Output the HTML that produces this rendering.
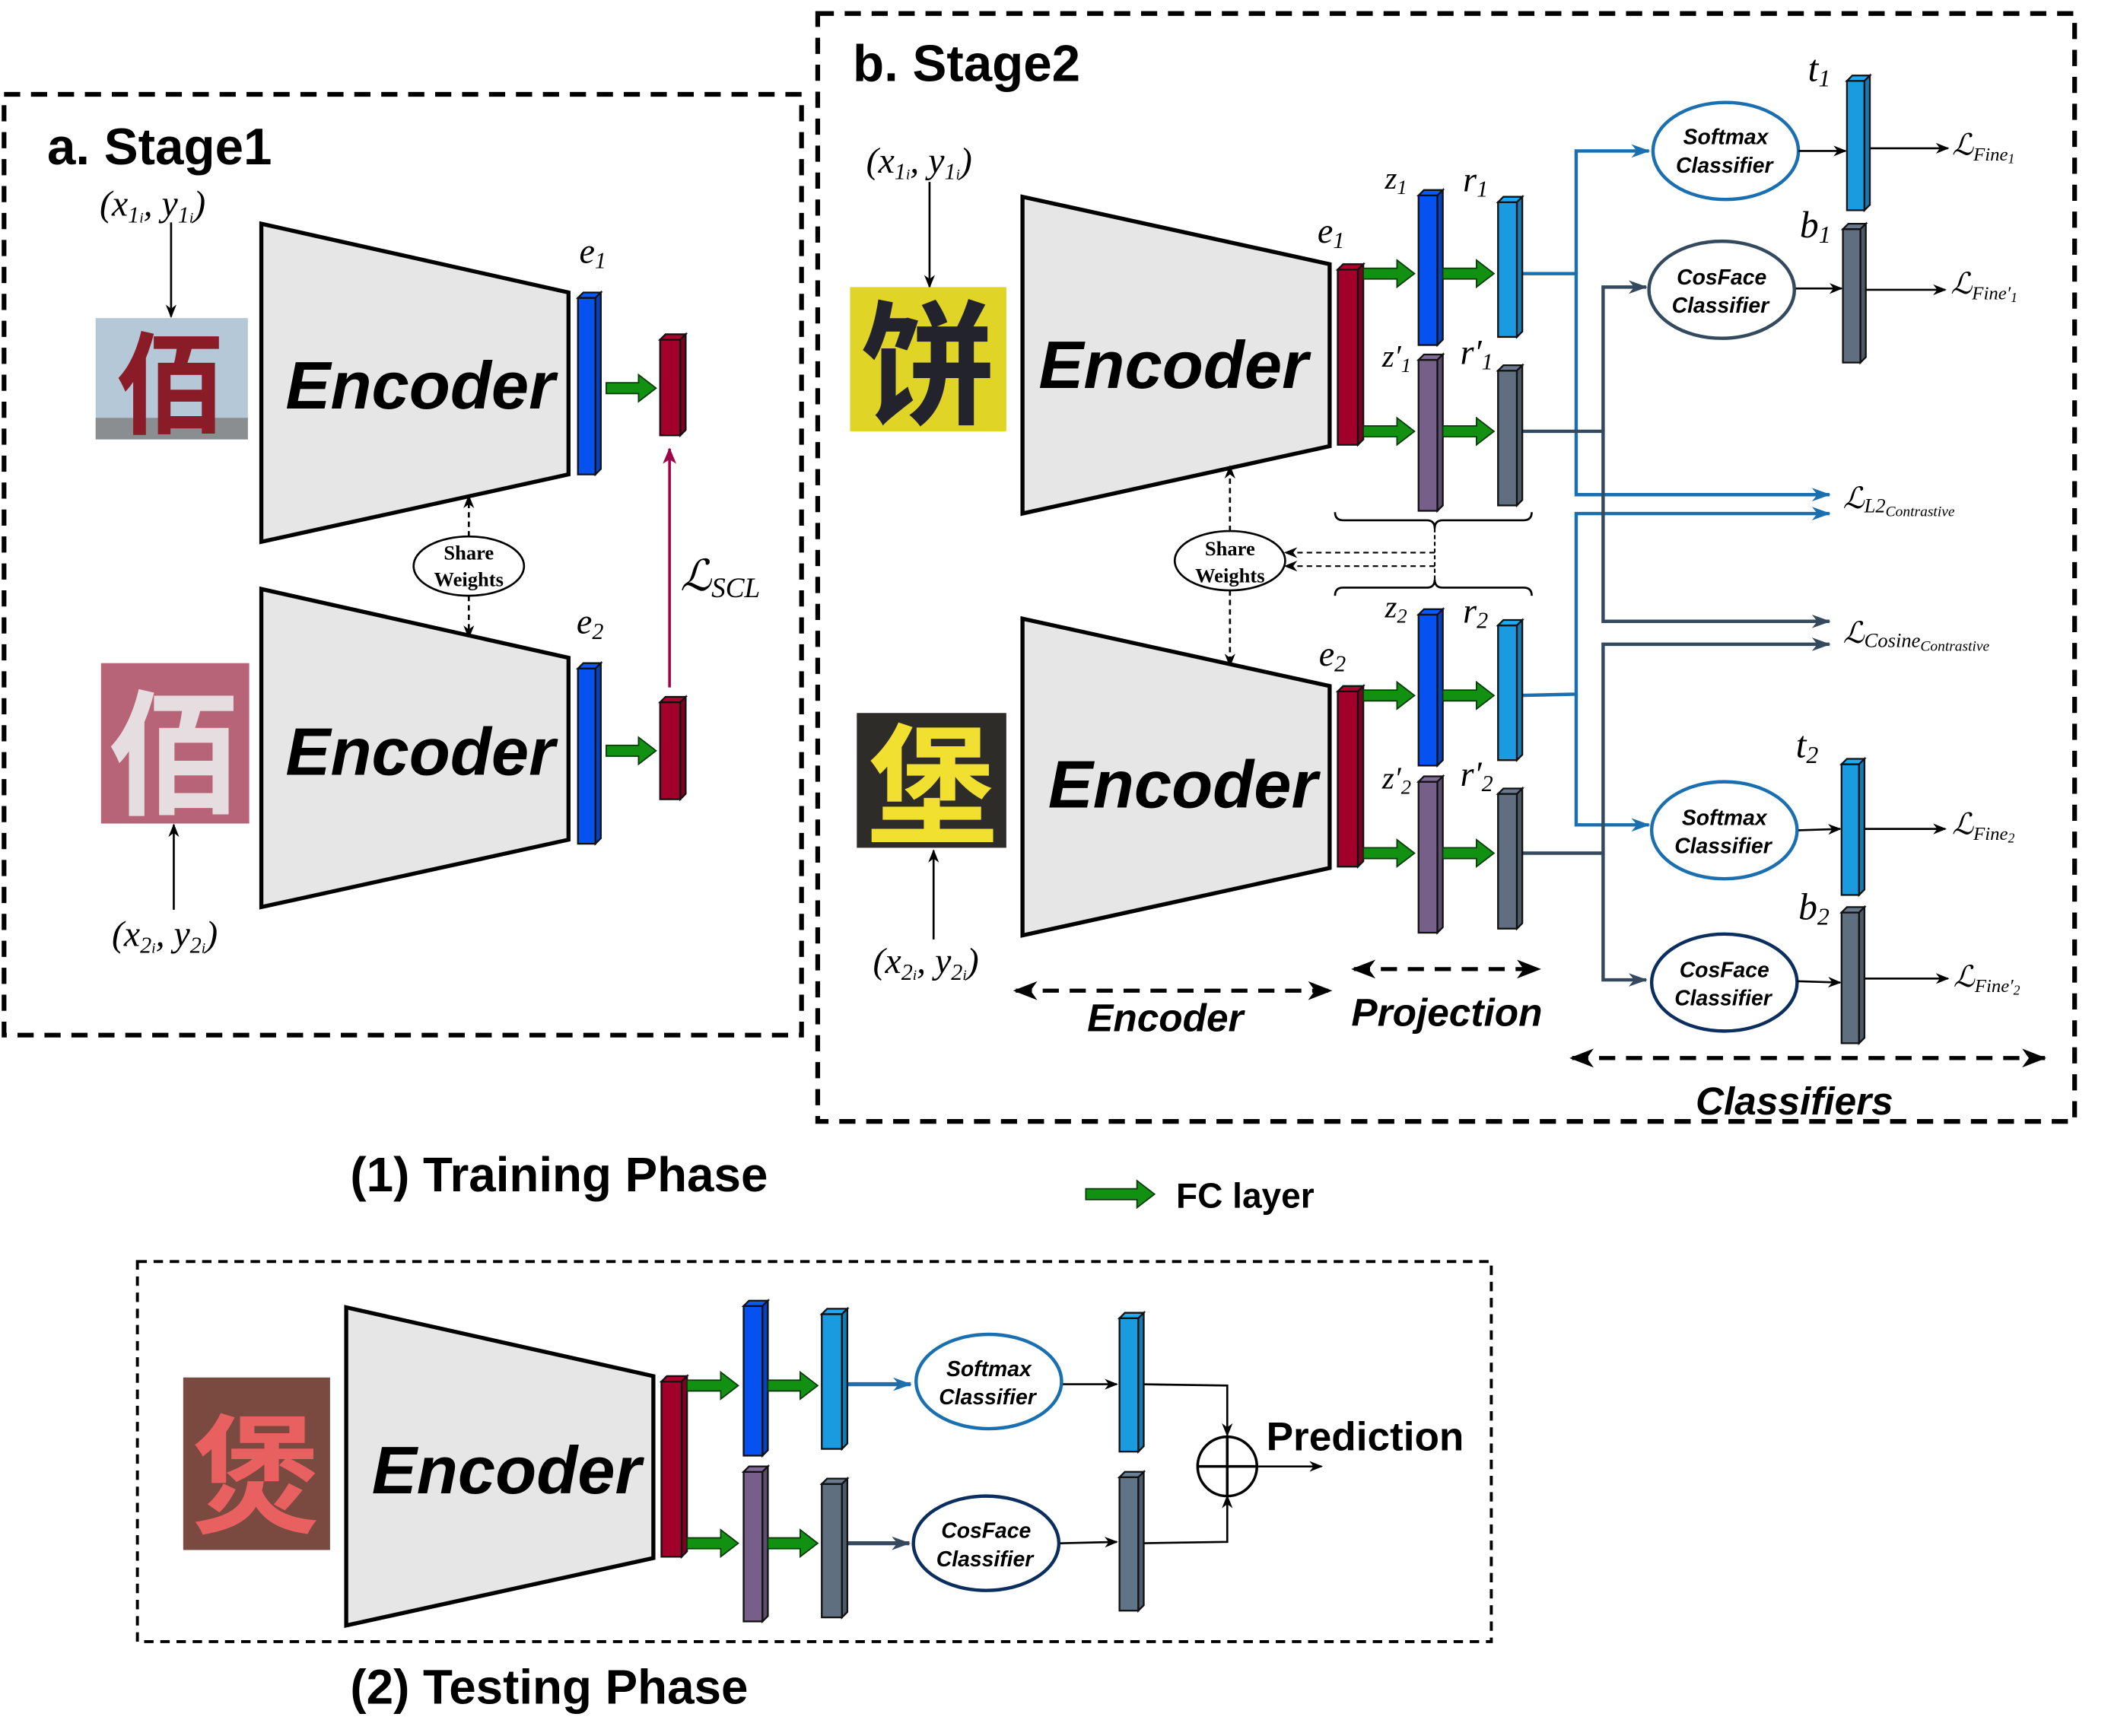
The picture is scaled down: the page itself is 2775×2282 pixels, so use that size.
<!DOCTYPE html>
<html><head><meta charset="utf-8"><style>
html,body{margin:0;padding:0;background:#fff;}
svg{display:block;}
.sf{font-family:"Liberation Sans",sans-serif;font-weight:bold;}
.enc{font-family:"Liberation Sans",sans-serif;font-weight:bold;font-style:italic;font-size:50px;}
.m{font-family:"Liberation Serif","DejaVu Serif",serif;font-style:italic;}
.cl{font-family:"Liberation Sans",sans-serif;font-weight:bold;font-style:italic;font-size:16px;}
</style></head><body>
<svg width="2775" height="2282" viewBox="0 0 1567 1288" preserveAspectRatio="none" xmlns="http://www.w3.org/2000/svg">
<defs>
<marker id="ah" markerWidth="10" markerHeight="10" refX="9" refY="5" orient="auto" markerUnits="userSpaceOnUse"><path d="M0,1 L10,5 L0,9 L3,5 z" fill="#000"/></marker>
<marker id="ahb" markerWidth="14" markerHeight="12" refX="13" refY="6" orient="auto" markerUnits="userSpaceOnUse"><path d="M0,1 L14,6 L0,11 L4,6 z" fill="#1a6fb0"/></marker>
<marker id="ahd" markerWidth="14" markerHeight="12" refX="13" refY="6" orient="auto" markerUnits="userSpaceOnUse"><path d="M0,1 L14,6 L0,11 L4,6 z" fill="#34495e"/></marker>
<marker id="ahr" markerWidth="12" markerHeight="12" refX="11" refY="6" orient="auto" markerUnits="userSpaceOnUse"><path d="M0,1 L12,6 L0,11 L3,6 z" fill="#a0004a"/></marker>
<marker id="ahk" markerWidth="18" markerHeight="14" refX="17" refY="7" orient="auto" markerUnits="userSpaceOnUse"><path d="M0,0 L18,7 L0,14 L5,7 z" fill="#000"/></marker>
</defs>

<rect x="3" y="70" width="592" height="698" fill="none" stroke="#000" stroke-width="3.5" stroke-dasharray="12,8"/>
<rect x="607" y="10" width="933" height="822" fill="none" stroke="#000" stroke-width="3.5" stroke-dasharray="12,8"/>
<rect x="102" y="936" width="1005" height="282" fill="none" stroke="#000" stroke-width="2.2" stroke-dasharray="7,5"/>

<text x="35" y="122" class="sf" font-size="38">a. Stage1</text>
<text x="74" y="160" class="m" font-size="27">(x<tspan font-size="17" dy="5">1<tspan font-size="11">i</tspan></tspan><tspan dy="-5">, y</tspan><tspan font-size="17" dy="5">1<tspan font-size="11">i</tspan></tspan><tspan dy="-5">)</tspan></text>
<line x1="127" y1="165" x2="127" y2="235" stroke="#000" stroke-width="1.5" marker-end="url(#ah)"/>
<rect x="71" y="236" width="113" height="90" fill="#b4c8d8"/>
<rect x="71" y="310" width="113" height="16" fill="#8a8e90"/>
<text x="127" y="315" text-anchor="middle" font-family="'Noto Sans CJK SC',sans-serif" font-weight="bold" font-size="82" fill="#8a1c28">佰</text>
<polygon points="194,166 422,217 422,352 194,402" fill="#e6e6e6" stroke="#000" stroke-width="3"/>
<text x="312" y="303" text-anchor="middle" class="enc">Encoder</text>
<text x="430" y="195" class="m" font-size="26">e<tspan font-size="17" dy="4">1</tspan></text>

<text x="348" y="415" text-anchor="middle" font-family="'Liberation Serif',serif" font-weight="bold" font-size="15">Share</text>
<text x="348" y="435" text-anchor="middle" font-family="'Liberation Serif',serif" font-weight="bold" font-size="15">Weights</text>
<ellipse cx="348" cy="420" rx="41" ry="22" fill="none" stroke="#000" stroke-width="1.5"/>
<line x1="348" y1="398" x2="348" y2="368" stroke="#000" stroke-width="1.5" stroke-dasharray="4,3" marker-end="url(#ah)"/>
<line x1="348" y1="442" x2="348" y2="473" stroke="#000" stroke-width="1.5" stroke-dasharray="4,3" marker-end="url(#ah)"/>

<rect x="75" y="492" width="110" height="119" fill="#b86478"/>
<text x="130" y="596" text-anchor="middle" font-family="'Noto Sans CJK SC',sans-serif" font-weight="bold" font-size="100" fill="#e6dde0">佰</text>
<polygon points="194,437 422,488 422,623 194,673" fill="#e6e6e6" stroke="#000" stroke-width="3"/>
<text x="312" y="575" text-anchor="middle" class="enc">Encoder</text>
<text x="428" y="470" class="m" font-size="26">e<tspan font-size="17" dy="4">2</tspan></text>
<line x1="129" y1="675" x2="129" y2="612" stroke="#000" stroke-width="1.5" marker-end="url(#ah)"/>
<text x="83" y="702" class="m" font-size="27">(x<tspan font-size="17" dy="5">2<tspan font-size="11">i</tspan></tspan><tspan dy="-5">, y</tspan><tspan font-size="17" dy="5">2<tspan font-size="11">i</tspan></tspan><tspan dy="-5">)</tspan></text>
<line x1="497" y1="510" x2="497" y2="333" stroke="#a0004a" stroke-width="2" marker-end="url(#ahr)"/>
<text x="505" y="438" class="m" font-size="32">ℒ<tspan font-size="21" dy="5">SCL</tspan></text>

<text x="633" y="60" class="sf" font-size="38">b. Stage2</text>
<text x="643" y="128" class="m" font-size="27">(x<tspan font-size="17" dy="5">1<tspan font-size="11">i</tspan></tspan><tspan dy="-5">, y</tspan><tspan font-size="17" dy="5">1<tspan font-size="11">i</tspan></tspan><tspan dy="-5">)</tspan></text>
<line x1="690" y1="135" x2="690" y2="213" stroke="#000" stroke-width="1.5" marker-end="url(#ah)"/>
<rect x="631" y="213" width="116" height="107" fill="#e0d426"/>
<text x="689" y="307" text-anchor="middle" font-family="'Noto Sans CJK SC',sans-serif" font-weight="bold" font-size="100" fill="#23232e">饼</text>
<polygon points="759,146 987,196 987,331 759,381" fill="#e6e6e6" stroke="#000" stroke-width="3"/>
<text x="871" y="288" text-anchor="middle" class="enc">Encoder</text>
<text x="978" y="180" class="m" font-size="26">e<tspan font-size="17" dy="4">1</tspan></text>

<text x="1028" y="140" class="m" font-size="23">z<tspan font-size="15" dy="4">1</tspan></text>
<text x="1086" y="142" class="m" font-size="26">r<tspan font-size="17" dy="4">1</tspan></text>
<text x="1026" y="272" class="m" font-size="23">z′<tspan font-size="15" dy="4">1</tspan></text>
<text x="1084" y="270" class="m" font-size="26">r′<tspan font-size="17" dy="4">1</tspan></text>

<text x="913" y="412" text-anchor="middle" font-family="'Liberation Serif',serif" font-weight="bold" font-size="15">Share</text>
<text x="913" y="432" text-anchor="middle" font-family="'Liberation Serif',serif" font-weight="bold" font-size="15">Weights</text>
<ellipse cx="913" cy="416" rx="41" ry="22" fill="none" stroke="#000" stroke-width="1.5"/>
<line x1="913" y1="394" x2="913" y2="346" stroke="#000" stroke-width="1.5" stroke-dasharray="4,3" marker-end="url(#ah)"/>
<line x1="913" y1="438" x2="913" y2="494" stroke="#000" stroke-width="1.5" stroke-dasharray="4,3" marker-end="url(#ah)"/>
<path d="M991,380 q0,6 6,6 h62 q6,0 6,6 q0,-6 6,-6 h60 q6,0 6,-6" fill="none" stroke="#000" stroke-width="1.5"/>
<path d="M991,442 q0,-6 6,-6 h62 q6,0 6,-6 q0,6 6,6 h60 q6,0 6,6" fill="none" stroke="#000" stroke-width="1.5"/>
<line x1="1065" y1="392" x2="1065" y2="430" stroke="#000" stroke-width="1.2" stroke-dasharray="3,2"/>
<line x1="1065" y1="410" x2="954" y2="410" stroke="#000" stroke-width="1.2" stroke-dasharray="4,3" marker-end="url(#ah)"/>
<line x1="1065" y1="420" x2="954" y2="420" stroke="#000" stroke-width="1.2" stroke-dasharray="4,3" marker-end="url(#ah)"/>

<rect x="636" y="529" width="111" height="100" fill="#2e2c28"/>
<text x="692" y="618" text-anchor="middle" font-family="'Noto Sans CJK SC',sans-serif" font-weight="bold" font-size="96" fill="#f2e030">堡</text>
<polygon points="759,459 987,509 987,644 759,694" fill="#e6e6e6" stroke="#000" stroke-width="3"/>
<text x="878" y="599" text-anchor="middle" class="enc">Encoder</text>
<text x="979" y="494" class="m" font-size="26">e<tspan font-size="17" dy="4">2</tspan></text>
<line x1="693" y1="697" x2="693" y2="631" stroke="#000" stroke-width="1.5" marker-end="url(#ah)"/>
<text x="648" y="722" class="m" font-size="27">(x<tspan font-size="17" dy="5">2<tspan font-size="11">i</tspan></tspan><tspan dy="-5">, y</tspan><tspan font-size="17" dy="5">2<tspan font-size="11">i</tspan></tspan><tspan dy="-5">)</tspan></text>

<text x="1028" y="458" class="m" font-size="23">z<tspan font-size="15" dy="4">2</tspan></text>
<text x="1086" y="462" class="m" font-size="26">r<tspan font-size="17" dy="4">2</tspan></text>
<text x="1026" y="585" class="m" font-size="23">z′<tspan font-size="15" dy="4">2</tspan></text>
<text x="1084" y="583" class="m" font-size="26">r′<tspan font-size="17" dy="4">2</tspan></text>

<line x1="754" y1="735" x2="988" y2="735" stroke="#000" stroke-width="3" stroke-dasharray="12,8" marker-end="url(#ahk)"/>
<path d="M752,735 l18,-7 l-5,7 l5,7z" fill="#000"/>
<text x="865" y="765" text-anchor="middle" class="sf" font-style="italic" font-size="29">Encoder</text>
<line x1="1005" y1="719" x2="1143" y2="719" stroke="#000" stroke-width="3" stroke-dasharray="12,8" marker-end="url(#ahk)"/>
<path d="M1003,719 l18,-7 l-5,7 l5,7z" fill="#000"/>
<text x="1074" y="761" text-anchor="middle" class="sf" font-style="italic" font-size="29">Projection</text>
<line x1="1167" y1="785" x2="1518" y2="785" stroke="#000" stroke-width="3" stroke-dasharray="12,8" marker-end="url(#ahk)"/>
<path d="M1165,785 l18,-7 l-5,7 l5,7z" fill="#000"/>
<text x="1332" y="827" text-anchor="middle" class="sf" font-style="italic" font-size="29">Classifiers</text>

<g fill="none" stroke-width="2.5">
<path d="M1127,203 H1170 V367 H1358" stroke="#1a6fb0" marker-end="url(#ahb)"/>
<path d="M1170,203 V112 H1224" stroke="#1a6fb0" marker-end="url(#ahb)"/>
<path d="M1127,516 L1170,515 V381 H1358" stroke="#1a6fb0" marker-end="url(#ahb)"/>
<path d="M1170,515 V612 H1224" stroke="#1a6fb0" marker-end="url(#ahb)"/>
<path d="M1127,320 H1190 V461 H1358" stroke="#34495e" marker-end="url(#ahd)"/>
<path d="M1190,320 V213 H1222" stroke="#34495e" marker-end="url(#ahd)"/>
<path d="M1127,633 H1190 V478 H1358" stroke="#34495e" marker-end="url(#ahd)"/>
<path d="M1190,633 V727 H1222" stroke="#34495e" marker-end="url(#ahd)"/>
</g>
<ellipse cx="1281" cy="112" rx="54" ry="36" fill="#fff" stroke="#1a6fb0" stroke-width="2.5"/>
<text x="1281" y="107" text-anchor="middle" class="cl">Softmax</text><text x="1280" y="128" text-anchor="middle" class="cl">Classifier</text>
<ellipse cx="1278" cy="215" rx="54" ry="36" fill="#fff" stroke="#34495e" stroke-width="2.5"/>
<text x="1278" y="211" text-anchor="middle" class="cl">CosFace</text><text x="1277" y="232" text-anchor="middle" class="cl">Classifier</text>
<ellipse cx="1280" cy="616" rx="54" ry="36" fill="#fff" stroke="#1a6fb0" stroke-width="2.5"/>
<text x="1280" y="612" text-anchor="middle" class="cl">Softmax</text><text x="1279" y="633" text-anchor="middle" class="cl">Classifier</text>
<ellipse cx="1280" cy="729" rx="54" ry="36" fill="#fff" stroke="#0b2e5e" stroke-width="2.5"/>
<text x="1280" y="725" text-anchor="middle" class="cl">CosFace</text><text x="1279" y="746" text-anchor="middle" class="cl">Classifier</text>

<g stroke="#000" stroke-width="1.5" fill="none">
<line x1="1335" y1="112" x2="1370" y2="112" marker-end="url(#ah)"/>
<line x1="1384" y1="110" x2="1446" y2="110" marker-end="url(#ah)"/>
<line x1="1333" y1="214" x2="1367" y2="214" marker-end="url(#ah)"/>
<line x1="1381" y1="215" x2="1444" y2="215" marker-end="url(#ah)"/>
<line x1="1335" y1="616" x2="1366" y2="615" marker-end="url(#ah)"/>
<line x1="1380" y1="615" x2="1444" y2="615" marker-end="url(#ah)"/>
<line x1="1334" y1="728" x2="1366" y2="729" marker-end="url(#ah)"/>
<line x1="1376" y1="726" x2="1446" y2="726" marker-end="url(#ah)"/>
</g>
<text x="1342" y="60" class="m" font-size="28">t<tspan font-size="18" dy="4">1</tspan></text>
<text x="1336" y="176" class="m" font-size="28">b<tspan font-size="18" dy="4">1</tspan></text>
<text x="1333" y="562" class="m" font-size="28">t<tspan font-size="18" dy="4">2</tspan></text>
<text x="1335" y="682" class="m" font-size="28">b<tspan font-size="18" dy="4">2</tspan></text>
<text x="1449" y="115" class="m" font-size="22">ℒ<tspan font-size="14" dy="4">Fine<tspan font-size="10" dy="2">1</tspan></tspan></text>
<text x="1448" y="218" class="m" font-size="22">ℒ<tspan font-size="14" dy="4">Fine′<tspan font-size="10" dy="2">1</tspan></tspan></text>
<text x="1449" y="619" class="m" font-size="22">ℒ<tspan font-size="14" dy="4">Fine<tspan font-size="10" dy="2">2</tspan></tspan></text>
<text x="1450" y="732" class="m" font-size="22">ℒ<tspan font-size="14" dy="4">Fine′<tspan font-size="10" dy="2">2</tspan></tspan></text>
<text x="1368" y="377" class="m" font-size="22">ℒ<tspan font-size="15" dy="3">L2</tspan><tspan font-size="11" dy="3">Contrastive</tspan></text>
<text x="1368" y="477" class="m" font-size="22">ℒ<tspan font-size="15" dy="3">Cosine</tspan><tspan font-size="11" dy="3">Contrastive</tspan></text>

<text x="260" y="884" class="sf" font-size="36">(1) Training Phase</text>
<text x="873" y="896" class="sf" font-size="26">FC layer</text>
<text x="260" y="1264" class="sf" font-size="36">(2) Testing Phase</text>

<rect x="136" y="1022" width="109" height="128" fill="#7a4a40"/>
<text x="190" y="1130" text-anchor="middle" font-family="'Noto Sans CJK SC',sans-serif" font-weight="bold" font-size="96" fill="#e86060">煲</text>
<polygon points="257,970 485,1021 485,1156 257,1206" fill="#e6e6e6" stroke="#000" stroke-width="3"/>
<text x="376" y="1108" text-anchor="middle" class="enc">Encoder</text>
<line x1="628" y1="1027" x2="676" y2="1027" stroke="#1a6fb0" stroke-width="3" marker-end="url(#ahb)"/>
<line x1="628" y1="1145" x2="675" y2="1145" stroke="#34495e" stroke-width="3" marker-end="url(#ahd)"/>
<ellipse cx="734" cy="1025" rx="54" ry="35" fill="#fff" stroke="#1a6fb0" stroke-width="2.5"/>
<text x="734" y="1021" text-anchor="middle" class="cl">Softmax</text><text x="733" y="1042" text-anchor="middle" class="cl">Classifier</text>
<ellipse cx="732" cy="1145" rx="54" ry="35" fill="#fff" stroke="#0b2e5e" stroke-width="2.5"/>
<text x="732" y="1141" text-anchor="middle" class="cl">CosFace</text><text x="731" y="1162" text-anchor="middle" class="cl">Classifier</text>
<g stroke="#000" stroke-width="1.5" fill="none">
<line x1="789" y1="1027" x2="829" y2="1027" marker-end="url(#ah)"/>
<line x1="787" y1="1145" x2="829" y2="1144" marker-end="url(#ah)"/>
<path d="M845,1027 L911,1028 V1065" marker-end="url(#ah)"/>
<path d="M845,1145 L911,1144 V1110" marker-end="url(#ah)"/>
<circle cx="911" cy="1088" r="22" stroke-width="2"/>
<line x1="889" y1="1088" x2="933" y2="1088" stroke-width="2"/>
<line x1="911" y1="1066" x2="911" y2="1110" stroke-width="2"/>
<line x1="933" y1="1088" x2="981" y2="1088" marker-end="url(#ah)"/>
</g>
<text x="940" y="1076" class="sf" font-size="30">Prediction</text>

<g id="bars"></g>
</svg>
<script>
(function(){
var g=document.getElementById('bars'),ns='http://www.w3.org/2000/svg';
function sh(c,f){var r=parseInt(c.slice(1,3),16),gg=parseInt(c.slice(3,5),16),b=parseInt(c.slice(5,7),16);
return 'rgb('+Math.min(255,Math.round(r*f))+','+Math.min(255,Math.round(gg*f))+','+Math.min(255,Math.round(b*f))+')';}
function bar(x,y,w,h,c){var d=4;
 var els=[['rect',{x:x,y:y,width:w,height:h,fill:c}],
 ['polygon',{points:x+','+y+' '+(x+d)+','+(y-d)+' '+(x+w+d)+','+(y-d)+' '+(x+w)+','+y,fill:sh(c,1.1)}],
 ['polygon',{points:(x+w)+','+y+' '+(x+w+d)+','+(y-d)+' '+(x+w+d)+','+(y+h-d)+' '+(x+w)+','+(y+h),fill:sh(c,0.8)}]];
 els.forEach(function(e){var n=document.createElementNS(ns,e[0]);for(var k in e[1])n.setAttribute(k,e[1][k]);
 n.setAttribute('stroke','#111');n.setAttribute('stroke-width','1.3');g.appendChild(n);});}
function ga(x1,x2,y){var n=document.createElementNS(ns,'polygon');
 n.setAttribute('points',x1+','+(y-4)+' '+(x2-13)+','+(y-4)+' '+(x2-13)+','+(y-10)+' '+x2+','+y+' '+(x2-13)+','+(y+10)+' '+(x2-13)+','+(y+4)+' '+x1+','+(y+4));
 n.setAttribute('fill','#129012');n.setAttribute('stroke','#0a3a0a');n.setAttribute('stroke-width','1');g.appendChild(n);}
var B='#0652f0',R='#a0002a',L='#1a9be0',P='#76608a',G='#5f6f80';
bar(429,221,13,131,B);bar(429,496,13,130,B);
bar(490,252,15,71,R);bar(490,521,15,72,R);
ga(450,487,288);ga(450,487,557);
bar(993,200,15,130,R);bar(993,513,15,130,R);
bar(1053,145,14,111,B);bar(1053,267,14,112,P);bar(1112,150,14,100,L);bar(1112,275,14,100,G);
bar(1053,456,14,112,B);bar(1053,580,14,112,P);bar(1112,464,14,100,L);bar(1112,589,14,100,G);
[[1012,1050,203],[1071,1109,203],[1012,1050,320],[1071,1109,320],[1012,1050,516],[1071,1109,516],[1012,1050,633],[1071,1109,633]].forEach(function(a){ga(a[0],a[1],a[2]);});
bar(1371,60,13,96,L);bar(1368,170,13,99,G);bar(1367,567,13,97,L);bar(1367,677,13,97,G);
ga(806,857,886);
bar(491,1025,15,130,R);bar(552,969,14,111,B);bar(552,1092,14,111,P);
bar(610,975,15,100,L);bar(610,1101,15,99,G);bar(831,978,14,99,L);bar(831,1096,14,99,'#607488');
ga(510,548,1028);ga(570,607,1028);ga(510,548,1145);ga(570,607,1145);
})();
</script>
</body></html>
